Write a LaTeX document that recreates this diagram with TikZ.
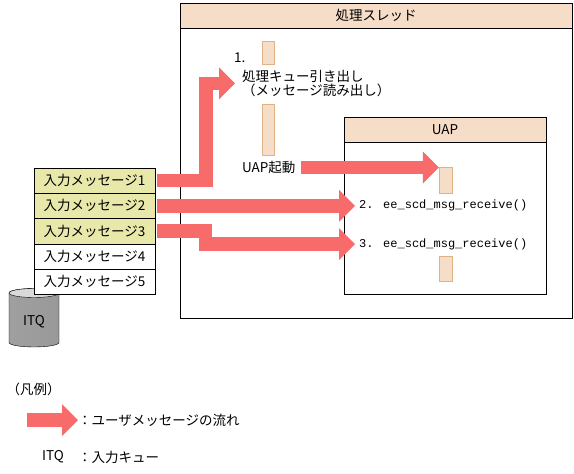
\documentclass[tikz,border=0pt]{standalone}
\usepackage{fontspec}
\setmainfont{Noto Sans CJK JP}
\newfontfamily\codefont{Liberation Mono}
\usetikzlibrary{arrows.meta}
\definecolor{peach}{RGB}{245,221,199}
\definecolor{bartan}{RGB}{222,180,135}
\definecolor{msgyellow}{RGB}{232,232,170}
\definecolor{flowred}{RGB}{247,107,107}
\tikzset{
  bar/.style={draw=bartan, fill=peach, minimum width=12pt, inner sep=0pt},
  msgrow/.style={draw, minimum width=121pt, minimum height=25.3pt, inner sep=0pt},
  flow/.style={draw=flowred, line width=13.5pt,
    -{Triangle[width=32pt,length=16pt,line width=0pt]}},
  code/.style={anchor=west, font=\codefont\fontsize{12}{14}\selectfont}
}
\begin{document}
\begin{tikzpicture}[x=1pt,y=-1pt,inner sep=0pt,font=\fontsize{13.5}{14.7}\selectfont]
\useasboundingbox (0,0) rectangle (574,474);
% thread box
\draw (180,3) rectangle (572,318);
\draw [fill=peach] (180,3) rectangle (572,28);
\node (thr) at (376,15.5) {処理スレッド};
\node [bar, minimum height=23pt] (b1) at (268,52.5) {};
\node [bar, minimum height=51pt] (b2) at (268,129.5) {};
\node [anchor=west] (s1) at (234,58) {1.};
\node [anchor=west, align=left] (q) at (242,83.4) {処理キュー引き出し\\（メッセージ読み出し）};
\node [anchor=west] (u) at (242,167.5) {UAP起動};
% UAP box
\draw (344,117) rectangle (546,294);
\draw [fill=peach] (344,117) rectangle (546,142);
\node (uap) at (445,129.5) {UAP};
\node [bar, minimum width=13pt, minimum height=26pt] (b3) at (445.5,180) {};
\node [bar, minimum width=13pt, minimum height=25pt] (b4) at (445.5,268.5) {};
\node [code] (r2) at (359,205) {2. ee\_scd\_msg\_receive()};
\node [code] (r3) at (359,244) {3. ee\_scd\_msg\_receive()};

% ITQ cylinder
\draw [left color=gray!75, middle color=gray!15, right color=gray!80]
  (9,293) -- (9,342.5) arc [start angle=180, end angle=360, x radius=25pt, y radius=4.5pt]
  -- (59,293) arc [start angle=0, end angle=180, x radius=25pt, y radius=4.5pt] -- cycle;
\draw [fill=gray!30] (34,293) ellipse [x radius=25pt, y radius=4.5pt];
\node (itq) at (34,322) {ITQ};

% input messages
\foreach \n/\c in {1/msgyellow,2/msgyellow,3/msgyellow,4/white,5/white}
	\node [msgrow, fill=\c] (m\n) at (94.5,155.2+25.3*\n) {入力メッセージ\n};

% message flow
\draw [flow, shorten >=7pt] ([xshift=2pt]m1.east) -- ++(49,0) |- (q.west);
\draw [flow] ([xshift=5pt]u.east) -- (b3.west |- u.east);
\draw [flow] ([xshift=2pt]m2.east) -- ([xshift=-4pt]r2.west |- m2.east);
\draw [flow] ([xshift=2pt]m3.east) -- ++(48.5,0) |- ([xshift=-4pt]r3.west);

% legend
\node (leg) at (33.5,389) {（凡例）};
\coordinate (l0) at (27,420);
\node [anchor=west] (lt) at (78,420) {：ユーザメッセージの流れ};
\draw [flow] (l0) -- (lt.west);
\node (litq) at (53,457) {ITQ};
\node [anchor=west] (lq) at (78,457) {：入力キュー};
\end{tikzpicture}
\end{document}
